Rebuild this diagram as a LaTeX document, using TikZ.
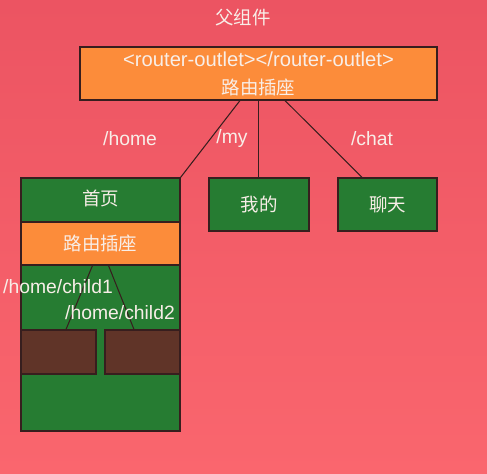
\documentclass[tikz,border=0pt]{standalone}
\usepackage{fontspec}
\setmainfont{Liberation Sans}
\newfontfamily\cjk{Noto Sans CJK SC}

\begin{document}
\begin{tikzpicture}
    \definecolor{rt_bgtop}{RGB}{236,84,98}
    \definecolor{rt_bgbot}{RGB}{250,102,110}
    \definecolor{rt_outlet}{RGB}{252,140,58}
    \definecolor{rt_page}{RGB}{38,124,50}
    \definecolor{rt_child}{RGB}{96,52,40}
    \definecolor{rt_line}{RGB}{55,30,30}
    \definecolor{rt_text}{RGB}{248,238,232}
    \tikzset{
        rtbox/.style={shape=rectangle,draw=rt_line,line width=0.6pt,inner sep=0pt,text=rt_text},
        rtlabel/.style={text=rt_text,font=\fontsize{11}{12}\selectfont},
        rtcjk/.style={font=\cjk\fontsize{10.5}{12}\selectfont},
        rtlink/.style={draw=rt_line,line width=0.6pt}
    }
    \shade[top color=rt_bgtop,bottom color=rt_bgbot] (0,0) rectangle (9.74,9.48);
    \useasboundingbox (0,0) rectangle (9.74,9.48);
    \node[rtlabel,rtcjk] (title) at (4.86,9.12) {父组件};
    \node[rtbox,fill=rt_outlet,minimum width=7.14cm,minimum height=1.06cm,align=center,font=\fontsize{11.5}{15}\selectfont] (outlet) at (5.17,8.01) {<router-outlet></router-outlet>\\[1pt]{\cjk\fontsize{10.5}{15}\selectfont 路由插座}};
    \node[rtbox,fill=rt_page,minimum width=3.18cm,minimum height=5.06cm] (home) at (2.01,3.39) {};
    \node[rtlabel,rtcjk] (hometitle) at (2.01,5.52) {首页};
    \node[rtbox,rtcjk,fill=rt_outlet,minimum width=3.18cm,minimum height=0.86cm] (homeoutlet) at (2.01,4.61) {路由插座};
    \node[rtbox,fill=rt_child,minimum width=1.5cm,minimum height=0.88cm] (childA) at (1.17,2.44) {};
    \node[rtbox,fill=rt_child,minimum width=1.5cm,minimum height=0.88cm] (childB) at (2.85,2.44) {};
    \node[rtbox,rtcjk,fill=rt_page,minimum width=2.0cm,minimum height=1.06cm] (my) at (5.18,5.39) {我的};
    \node[rtbox,rtcjk,fill=rt_page,minimum width=1.98cm,minimum height=1.06cm] (chat) at (7.75,5.39) {聊天};
    % links
    \draw[rtlink] ([xshift=-0.37cm]outlet.south) -- (home.north east);
    \draw[rtlink] (outlet.south) -- (outlet.south |- my.north);
    \draw[rtlink] ([xshift=0.53cm]outlet.south) -- ([xshift=-0.51cm]chat.north);
    \draw[rtlink] ([xshift=-0.16cm]homeoutlet.south) -- ([xshift=0.15cm]childA.north);
    \draw[rtlink] ([xshift=0.16cm]homeoutlet.south) -- ([xshift=-0.17cm]childB.north);
    \node[rtlabel] (lhome) at (2.6,6.7) {/home};
    \node[rtlabel] (lmy) at (4.64,6.7) {/my};
    \node[rtlabel] (lchat) at (7.44,6.7) {/chat};
    \node[rtlabel] (lchildA) at (1.16,3.74) {/home/child1};
    \node[rtlabel] (lchildB) at (2.4,3.22) {/home/child2};
\end{tikzpicture}
\end{document}
